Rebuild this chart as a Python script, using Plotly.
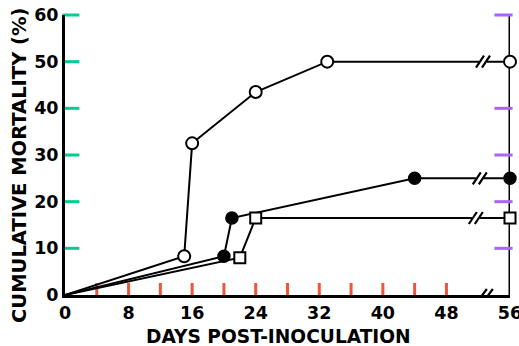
import plotly.graph_objects as go

# Data
open_circle_days = [0, 15, 16, 24, 33, 56]
open_circle_mort = [0, 8.3, 32.5, 43.5, 50, 50]
filled_circle_days = [0, 20, 21, 44, 56]
filled_circle_mort = [0, 8.3, 16.5, 25, 25]
open_square_days = [0, 22, 24, 56]
open_square_mort = [0, 8.0, 16.5, 16.5]

x_tick_vals = [0, 4, 8, 12, 16, 20, 24, 28, 32, 36, 40, 44, 48, 56]
x_tick_text = ["0", "", "8", "", "16", "", "24", "", "32", "", "40", "", "48", "56"]
y_tick_vals = [0, 10, 20, 30, 40, 50, 60]
y_tick_text = ["0", "10", "20", "30", "40", "50", "60"]
right_tick_vals = [10, 20, 30, 40, 60]

X_MAX = 56
Y_MAX = 60
series_break_x = [52.6, 52.2, 51.7]
AXIS_BREAK_X = 52.9

W, H = 519, 346
ML, MR, MT, MB = 65, 9, 15, 51
px_per_x = (W - ML - MR) / X_MAX
px_per_y = (H - MT - MB) / Y_MAX

FONT = "DejaVu Sans"
tick_font = dict(family=FONT, size=17.5, color="black")

fig = go.Figure()

# right-hand axis line
fig.add_trace(go.Scatter(x=[X_MAX, X_MAX], y=[0, Y_MAX], mode="lines",
                         line=dict(color="black", width=3),
                         showlegend=False, hoverinfo="skip", cliponaxis=False))

# inward tick marks drawn as line-shaped markers
XT_LEN, YT_LEN = 10, 12
fig.add_trace(go.Scatter(
    x=x_tick_vals[1:-1], y=[XT_LEN / 2 / px_per_y] * len(x_tick_vals[1:-1]),
    mode="markers", marker=dict(symbol="line-ns-open", size=XT_LEN,
                                line=dict(color="black", width=3)),
    showlegend=False, hoverinfo="skip", cliponaxis=False))
fig.add_trace(go.Scatter(
    x=[YT_LEN / 2 / px_per_x] * len(y_tick_vals[1:]), y=y_tick_vals[1:],
    mode="markers", marker=dict(symbol="line-ew-open", size=YT_LEN,
                                line=dict(color="black", width=3)),
    showlegend=False, hoverinfo="skip", cliponaxis=False))
fig.add_trace(go.Scatter(
    x=[X_MAX - (YT_LEN + 1) / 2 / px_per_x] * len(right_tick_vals), y=right_tick_vals,
    mode="markers", marker=dict(symbol="line-ew-open", size=YT_LEN + 1,
                                line=dict(color="black", width=3)),
    showlegend=False, hoverinfo="skip", cliponaxis=False))

series = [
    (open_circle_days, open_circle_mort, dict(symbol="circle", size=12, color="white",
                                                line=dict(color="black", width=2))),
    (filled_circle_days, filled_circle_mort, dict(symbol="circle", size=12, color="black",
                                                    line=dict(color="black", width=1.5))),
    (open_square_days, open_square_mort, dict(symbol="square", size=11, color="white",
                                                line=dict(color="black", width=2))),
]
for xs, ys, mk in series:
    fig.add_trace(go.Scatter(
        x=xs, y=ys, mode="lines", line=dict(color="black", width=2),
        showlegend=False, hoverinfo="skip"))

# axis-break symbols "//"
gx, gy, sx, sy = [], [], [], []


def add_break(xc, yc, h=12, gap=6, w=8):
    gx.extend([xc - (gap / 2 + 1) / px_per_x, xc + (gap / 2 + 1) / px_per_x, None])
    gy.extend([yc, yc, None])
    for dx in (-gap / 2, gap / 2):
        sx.extend([xc + (dx - w / 2) / px_per_x, xc + (dx + w / 2) / px_per_x, None])
        sy.extend([yc - (h / 2) / px_per_y, yc + (h / 2) / px_per_y, None])


for bx, ys in zip(series_break_x, (open_circle_mort, filled_circle_mort, open_square_mort)):
    add_break(bx, ys[-1])
add_break(AXIS_BREAK_X, 0, h=12, gap=6, w=9)

fig.add_trace(go.Scatter(x=gx, y=gy, mode="lines", line=dict(color="white", width=4),
                         showlegend=False, hoverinfo="skip"))
fig.add_trace(go.Scatter(x=sx, y=sy, mode="lines", line=dict(color="black", width=2.2),
                         showlegend=False, hoverinfo="skip", cliponaxis=False))

for xs, ys, mk in series:
    fig.add_trace(go.Scatter(
        x=xs[1:], y=ys[1:], mode="markers", marker=mk,
        showlegend=False, cliponaxis=False))

annotations = [
    dict(text="<b>DAYS POST-INOCULATION</b>", xref="paper", yref="paper", x=0.5, y=0,
         xanchor="center", yanchor="middle", xshift=-9, yshift=-41, showarrow=False,
         font=dict(family=FONT, size=18.6, color="black")),
    dict(text="<b>CUMULATIVE MORTALITY (%)</b>", xref="paper", yref="paper", x=0, y=0.5,
         xanchor="center", yanchor="middle", xshift=-46, yshift=-11, showarrow=False,
         textangle=-90,
         font=dict(family=FONT, size=19.5, color="black")),
]

fig.update_layout(
    width=W, height=H,
    margin=dict(l=ML, r=MR, t=MT, b=MB, autoexpand=False),
    plot_bgcolor="white",
    annotations=annotations,
    xaxis=dict(
        range=[0, X_MAX], tickvals=x_tick_vals,
        ticktext=[f"<b>{t}</b>" if t else "" for t in x_tick_text],
        ticks="", showline=True, linewidth=3, linecolor="black",
        showgrid=False, zeroline=False, automargin=False, ticklabeloverflow="allow",
        tickfont=tick_font,
    ),
    yaxis=dict(
        range=[0, Y_MAX], tickvals=y_tick_vals,
        ticktext=[f"<b>{t}</b>" for t in y_tick_text],
        ticks="", showline=True, linewidth=3, linecolor="black",
        showgrid=False, zeroline=False, automargin=False, ticklabeloverflow="allow",
        tickfont=tick_font,
    ),
)

fig.write_html("out.html")
